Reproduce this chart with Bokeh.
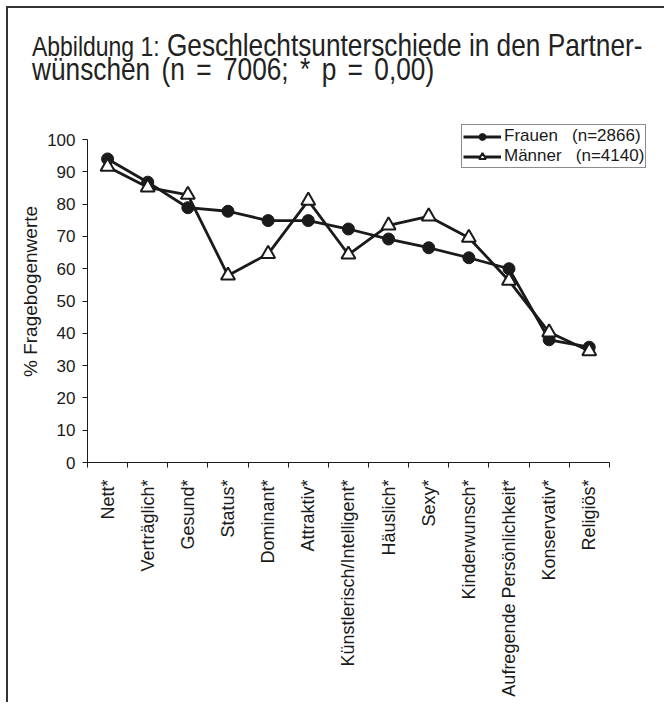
from bokeh.plotting import figure
from bokeh.models import Range1d, FixedTicker, Legend, LegendItem, Div
from bokeh.layouts import column
from bokeh.embed import file_html
from bokeh.resources import INLINE
import math

categories = ["Nett*", "Verträglich*", "Gesund*", "Status*", "Dominant*", "Attraktiv*",
              "Künstlerisch/Intelligent*", "Häuslich*", "Sexy*", "Kinderwunsch*",
              "Aufregende Persönlichkeit*", "Konservativ*", "Religiös*"]
frauen = [94.0, 86.8, 78.9, 77.8, 74.9, 74.9, 72.3, 69.2, 66.5, 63.4, 60.0, 38.0, 35.7]
maenner = [91.6, 85.2, 82.9, 57.9, 64.6, 81.1, 64.4, 73.4, 76.2, 69.6, 56.3, 40.3, 34.5]
y_ticks = [0, 10, 20, 30, 40, 50, 60, 70, 80, 90, 100]
label_frauen = "Frauen\u00a0\u00a0\u00a0(n=2866)"
label_maenner = "Männer\u00a0\u00a0\u00a0(n=4140)"
title_a = "Abbildung 1:"
title_b = "Geschlechtsunterschiede in den Partner-"
title_c = "wünschen (n = 7006; * p = 0,00)"
y_label = "% Fragebogenwerte"

n = len(categories)
xs = [i + 0.5 for i in range(n)]
edges = list(range(n + 1))

FONT = "Liberation Sans"
INK = "#1a1a1a"

line_css = ("position:absolute;left:24px;font-size:32px;line-height:23px;white-space:nowrap;"
            "transform:scaleX(0.82);transform-origin:0 0;")
title_html = (
    '<div style="position:relative;width:640px;height:112px;'
    'font-family:\'Liberation Sans\',Arial,sans-serif;color:#222;">'
    f'<div style="{line_css}top:26px;">'
    f'<span style="font-size:28px;">{title_a}</span> {title_b}</div>'
    f'<div style="{line_css}top:50px;word-spacing:5px;">{title_c}</div></div>'
)
div = Div(text=title_html, width=656, height=112, margin=0)

p = figure(width=656, height=582, x_range=Range1d(0, 14.15), y_range=Range1d(0, 105.9),
           output_backend="svg", toolbar_location=None, margin=0,
           min_border_left=79, min_border_right=9, min_border_top=0, min_border_bottom=240)
p.title.visible = False
p.outline_line_color = None
p.xgrid.visible = False
p.ygrid.visible = False
p.background_fill_color = "white"
p.border_fill_color = "white"

# y axis
ya = p.yaxis[0]
ya.bounds = (0, 100)
ya.ticker = FixedTicker(ticks=y_ticks, minor_ticks=[])
ya.major_tick_out = 5
ya.major_tick_in = 0
ya.minor_tick_out = 0
ya.minor_tick_in = 0
ya.axis_line_color = INK
ya.major_tick_line_color = INK
ya.major_label_text_font = FONT
ya.major_label_text_font_size = "17px"
ya.major_label_text_color = INK
ya.major_label_standoff = 7
ya.axis_label = y_label
ya.axis_label_text_font = FONT
ya.axis_label_text_font_size = "19px"
ya.axis_label_text_font_style = "normal"
ya.axis_label_text_color = INK
ya.axis_label_standoff = 3

# x axis: labels at category centres, ticks at category edges
xa = p.xaxis[0]
xa.bounds = (0, n)
xa.ticker = FixedTicker(ticks=xs, minor_ticks=edges)
xa.major_label_overrides = {x: c for x, c in zip(xs, categories)}
xa.major_tick_out = 0
xa.major_tick_in = 0
xa.minor_tick_out = 5
xa.minor_tick_in = 0
xa.minor_tick_line_color = INK
xa.axis_line_color = INK
xa.major_label_orientation = math.pi / 2
xa.major_label_text_font = FONT
xa.major_label_text_font_size = "18px"
xa.major_label_text_color = INK
xa.major_label_standoff = 12

lf = p.line(xs, frauen, line_color=INK, line_width=2.8)
sf = p.scatter(xs, frauen, marker="circle", size=12, fill_color=INK, line_color=INK)
lm = p.line(xs, maenner, line_color=INK, line_width=2.8)
sm = p.scatter(xs, maenner, marker="triangle", size=14, fill_color="white",
               line_color=INK, line_width=2)

legend = Legend(items=[LegendItem(label=label_frauen, renderers=[lf, sf]),
                       LegendItem(label=label_maenner, renderers=[lm, sm])],
                location=(374, 294), orientation="vertical",
                border_line_color=INK, border_line_width=1, background_fill_color="white",
                background_fill_alpha=1.0, padding=1, spacing=0, margin=0,
                glyph_width=38, glyph_height=17, label_height=17, label_standoff=3,
                label_text_line_height=0.9,
                label_text_font=FONT, label_text_font_size="17px", label_text_color=INK)
p.add_layout(legend)

layout = column(div, p, spacing=0,
                styles={"margin-left": "6px", "margin-top": "6px",
                        "border-left": "2px solid #333", "border-top": "2px solid #333"})

open("out.html", "w").write(file_html(layout, INLINE))
